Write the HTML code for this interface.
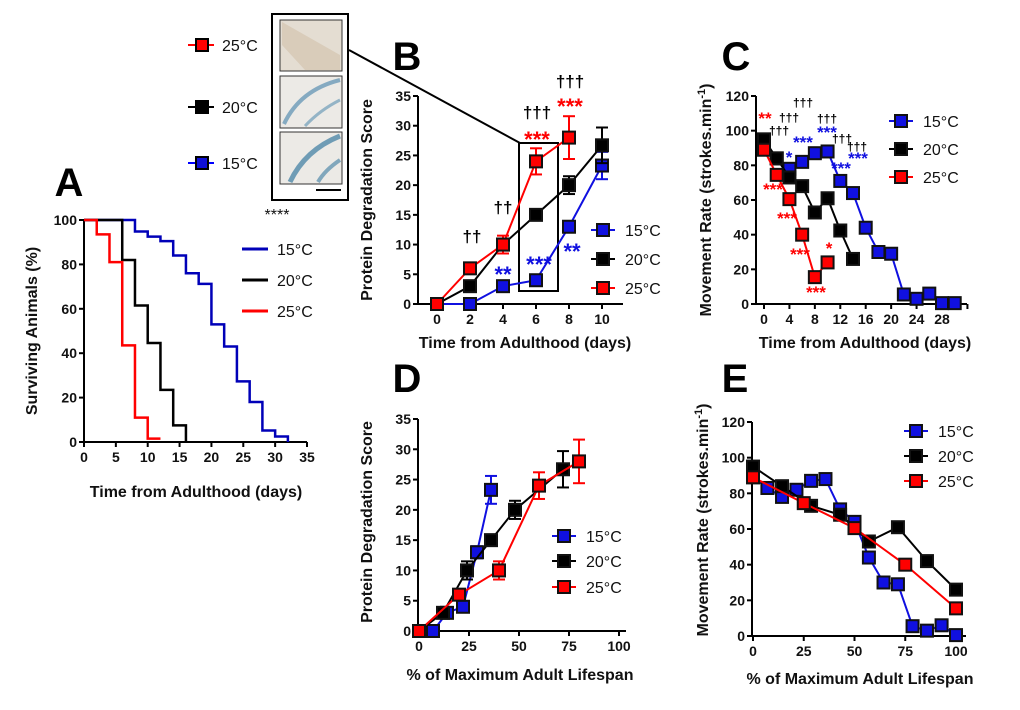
<!DOCTYPE html>
<html><head><meta charset="utf-8"><style>
html,body{margin:0;padding:0;background:#fff;}
svg{display:block;font-family:"Liberation Sans",Arial,sans-serif;}
.tk{font-size:14px;font-weight:bold;fill:#111;}
.tt{font-size:16px;font-weight:bold;fill:#111;}
.lg{font-size:16px;fill:#111;}
.pl{font-size:40px;font-weight:bold;fill:#000;}
</style></head><body>
<svg id="fig" width="1020" height="710" viewBox="0 0 1020 710">
<g>
<rect x="272" y="14" width="76" height="186" fill="#fff" stroke="#000" stroke-width="2"/>
<rect x="280" y="20" width="62" height="51" fill="#e4ddd2" stroke="#333"/>
<rect x="280" y="76" width="62" height="52" fill="#eceae6" stroke="#333"/>
<rect x="280" y="132" width="62" height="52" fill="#eceae6" stroke="#333"/>
<path d="M282 22 L340 55 L340 70 L305 70 L282 45Z" fill="#d9ccba"/>
<path d="M340 80 Q300 90 284 124" stroke="#5a8fb0" stroke-width="4" fill="none" opacity="0.7"/>
<path d="M340 100 Q320 110 305 126" stroke="#5a8fb0" stroke-width="3" fill="none" opacity="0.6"/>
<path d="M340 136 Q305 150 290 182" stroke="#3a7aa0" stroke-width="5" fill="none" opacity="0.7"/>
<path d="M340 160 Q325 170 318 182" stroke="#3a7aa0" stroke-width="4" fill="none" opacity="0.6"/>
<line x1="316" y1="190" x2="341" y2="190" stroke="#000" stroke-width="2"/>
<line x1="349" y1="50" x2="520" y2="143" stroke="#000" stroke-width="2"/>
<rect x="519" y="143" width="39" height="148" fill="none" stroke="#000" stroke-width="2"/>
</g>
<g>
<line x1="188" y1="45" x2="214" y2="45" stroke="#f00" stroke-width="2"/><rect x="196" y="39" width="12" height="12" fill="#f00" stroke="#000" stroke-width="2"/><text class="lg" x="222" y="51">25°C</text>
<line x1="188" y1="107" x2="214" y2="107" stroke="#000" stroke-width="2"/><rect x="196" y="101" width="12" height="12" fill="#000" stroke="#000" stroke-width="2"/><text class="lg" x="222" y="113">20°C</text>
<line x1="188" y1="163" x2="214" y2="163" stroke="#00f" stroke-width="2"/><rect x="196" y="157" width="12" height="12" fill="#1010d8" stroke="#000" stroke-width="2"/><text class="lg" x="222" y="169">15°C</text>
</g>
<g id="root"></g>
</svg>
<script>
// Panel A survival (step) data
const aDays15=[0,8,10,12,14,16,18,20,22,24,26,28,30,32];
const aSurv15=[100,94.8,92.5,90.5,84,76,71.2,53,43,27.3,18,5.2,2.5,0];
const aDays20=[0,6,8,10,12,14,16];
const aSurv20=[100,82,61.5,44.6,23.5,7.5,0];
const aDays25=[0,2,4,6,8,10,12];
const aSurv25=[100,93.5,81,43.5,11,1.5,1.5];
// Panel B protein degradation
const bDays=[0,2,4,6,8,10];
const b15=[0,0,3,4,13,23.3];
const b20=[0,3,10,15,20,26.7];
const b25=[0,6,10,24,28];
const b15err=[0,0,0,0,0.8,2.3];
const b20err=[0,0,0,0,1.5,3];
const b25err=[0,0,1.5,2.2,3.6];
// Panel C movement
const c15days=[0,2,4,6,8,10,12,14,16,18,20,22,24,26,28,30];
const c15=[90,84,78,82,87,88,71,64,44,30,29,5.5,3,6,0.5,0.5];
const c20days=[0,2,4,6,8,10,12,14];
const c20=[95,84,73,68,52.8,61,42.4,26];
const c25days=[0,2,4,6,8,10];
const c25=[89,74.5,60.5,40,15.5,24];
// Panel D
const d15x=[7,14,22,29,36];
const d15=[0,3,4,13,23.3];
const d15err=[0,0,0,1,2.3];
const d20x=[0,12,24,36,48,72];
const d20=[0,3,10,15,20,26.7];
const d20err=[0,0,1.5,0,1.5,3];
const d25x=[0,20,40,60,80];
const d25=[0,6,10,24,28];
const d25err=[0,0,1.5,2.2,3.6];
// Panel E
const e15x=[0,7.1,14.3,21.4,28.6,35.7,42.9,50,57.1,64.3,71.4,78.6,85.7,92.9,100];
const e15=[89,83,78,82,87,88,71,64,44,30,29,5.5,3,6,0.5];
const e20x=[0,14.3,28.6,42.9,57.1,71.4,85.7,100];
const e20=[95,84,73,68,53,61,42,26];
const e25x=[0,25,50,75,100];
const e25=[89,74.5,60.5,40,15.5];

const NS="http://www.w3.org/2000/svg";
const root=document.getElementById('root');
function mk(tag,attrs,parent){const e=document.createElementNS(NS,tag);for(const k in attrs)e.setAttribute(k,attrs[k]);(parent||root).appendChild(e);return e;}
function txt(s,x,y,cls,parent,anchor,fill){const t=mk('text',{x:x,y:y,class:cls,'text-anchor':anchor||'middle'},parent);if(fill){t.setAttribute('fill',fill);t.style.fill=fill;}t.textContent=s;return t;}
const BLUE='#1010e0',RED='#ff0000',BLK='#000';

function axes(p){
  const g=mk('g',{});
  
  
  const sx=v=>p.px0+(v-p.xd0)/(p.xd1-p.xd0)*(p.px1-p.px0);
  const sy=v=>p.py0+(v-p.yd0)/(p.yd1-p.yd0)*(p.py1-p.py0);
  mk('line',{x1:p.ax,y1:p.py1,x2:p.ax,y2:p.py0+1,stroke:'#000','stroke-width':2},g);
  mk('line',{x1:p.ax-1,y1:p.py0,x2:p.axEnd,y2:p.py0,stroke:'#000','stroke-width':2},g);
  p.yt.forEach(v=>{const y=sy(v);mk('line',{x1:p.ax-5,y1:y,x2:p.ax,y2:y,stroke:'#000','stroke-width':2},g);txt(String(v),p.ax-7,y+5,'tk',g,'end');});
  p.xt.forEach((v,i)=>{const x=sx(v);mk('line',{x1:x,y1:p.py0,x2:x,y2:p.py0+5,stroke:'#000','stroke-width':2},g);if(!p.xl||p.xl[i]!=='')txt(String(v),x,p.py0+20,'tk',g);});
  txt(p.xtitle,p.xtx,p.xty,'tt',g);
  const yt=txt(p.ytitle,0,0,'tt',g);yt.setAttribute('transform','translate('+p.ytx+','+p.yty+') rotate(-90)');
  if(p.sup){yt.textContent='';yt.appendChild(document.createTextNode(p.ytitle));const ts=mk('tspan',{dy:-6,'font-size':11},yt);ts.textContent='-1';const t2=mk('tspan',{dy:6},yt);t2.textContent=')';}
  txt(p.letter,p.lx,p.ly,'pl',g);
  return {g,sx,sy};
}
function series(ax,xs,ys,color,name,errs,lineColor){
  const g=mk('g',{},ax.g);
  
  
  const pts=xs.map((x,i)=>ax.sx(x)+','+ax.sy(ys[i])).join(' ');
  mk('polyline',{points:pts,fill:'none',stroke:lineColor||color,'stroke-width':2},g);
  xs.forEach((x,i)=>{
    const cx=ax.sx(x),cy=ax.sy(ys[i]);
    if(errs&&errs[i]){const e=errs[i];const y1=ax.sy(ys[i]+e),y2=ax.sy(ys[i]-e);
      mk('line',{x1:cx,y1:y1,x2:cx,y2:y2,stroke:color,'stroke-width':2},g);
      mk('line',{x1:cx-6,y1:y1,x2:cx+6,y2:y1,stroke:color,'stroke-width':2},g);
      mk('line',{x1:cx-6,y1:y2,x2:cx+6,y2:y2,stroke:color,'stroke-width':2},g);}
    const r=mk('rect',{x:cx-6,y:cy-6,width:12,height:12,fill:color,stroke:'#111','stroke-width':2},g);
    
    
  });
}
function step(ax,xs,ys,color,name){
  let d='M'+ax.sx(xs[0])+' '+ax.sy(ys[0]);
  for(let i=1;i<xs.length;i++){d+=' H'+ax.sx(xs[i])+' V'+ax.sy(ys[i]);}
  const p=mk('path',{d:d,fill:'none',stroke:color,'stroke-width':2.5},ax.g);
  
  
}
function legend(g,x,ys,labels,colors,withMarker,name){
  ys.forEach((y,i)=>{
    const lg=mk('g',{},g);
    
    
    if(withMarker){mk('line',{x1:x-12,y1:y,x2:x+12,y2:y,stroke:colors[i],'stroke-width':2},lg);mk('rect',{x:x-6,y:y-6,width:12,height:12,fill:colors[i],stroke:'#111','stroke-width':2},lg);}
    else mk('line',{x1:x-13,y1:y,x2:x+13,y2:y,stroke:colors[i],'stroke-width':3},lg);
    txt(labels[i],x+22,y+6,'lg',lg,'start');
  });
}
// A
const A=axes({name:'panel-a-survival',px0:84,px1:307,xd0:0,xd1:35,py0:442,py1:220,yd0:0,yd1:100,ax:84,axEnd:307,
 xt:[0,5,10,15,20,25,30,35],yt:[0,20,40,60,80,100],xtitle:'Time from Adulthood (days)',xtx:196,xty:497,ytitle:'Surviving Animals (%)',ytx:37,yty:331,letter:'A',lx:69,ly:196});
step(A,aDays15,aSurv15,'#0000b8','survival-15c');
step(A,aDays20,aSurv20,BLK,'survival-20c');
step(A,aDays25,aSurv25,RED,'survival-25c');
legend(A.g,255,[249,280,311],['15°C','20°C','25°C'],['#0000b8',BLK,RED],false,'legend-a');
txt('****',277,220,'lg',A.g);
// B
const B=axes({name:'panel-b-protein',px0:437,px1:602,xd0:0,xd1:10,py0:304,py1:96,yd0:0,yd1:35,ax:418,axEnd:623,
 xt:[0,2,4,6,8,10],yt:[0,5,10,15,20,25,30,35],xtitle:'Time from Adulthood (days)',xtx:525,xty:348,ytitle:'Protein Degradation Score',ytx:372,yty:200,letter:'B',lx:407,ly:70});
series(B,bDays,b15,BLUE,'b-15c',b15err);
series(B,bDays,b20,BLK,'b-20c',b20err);
series(B,bDays.slice(0,5),b25,RED,'b-25c',b25err);
legend(B.g,603,[230,259,288],['15°C','20°C','25°C'],[BLUE,BLK,RED],true,'legend-b');
[['††',472,242,BLK],['††',503,213,BLK],['†††',537,118,BLK],['†††',570,87,BLK],['***',537,147,RED],['***',570,114,RED],['**',503,282,BLUE],['***',539,272,BLUE],['**',572,259,BLUE]].forEach(a=>{const t=txt(a[0],a[1],a[2],'lg',B.g,'middle',a[3]);t.style.fontSize=a[3]===BLK?'17px':'22px';t.style.fontWeight='bold';});
// C
const C=axes({name:'panel-c-movement',px0:764,px1:942,xd0:0,xd1:28,py0:304,py1:96,yd0:0,yd1:120,ax:756,axEnd:967,
 xt:[0,4,8,12,16,20,24,28,32],xl:['0','4','8','12','16','20','24','28',''],yt:[0,20,40,60,80,100,120],xtitle:'Time from Adulthood (days)',xtx:865,xty:348,ytitle:'Movement Rate (strokes.min',sup:true,ytx:711,yty:200,letter:'C',lx:736,ly:70});
series(C,c15days,c15,BLUE,'c-15c');
series(C,c20days,c20,BLK,'c-20c');
series(C,c25days,c25,RED,'c-25c');
legend(C.g,901,[121,149,177],['15°C','20°C','25°C'],[BLUE,BLK,RED],true,'legend-c');
[['**',765,124,RED],['†††',779,135,BLK],['†††',789,122,BLK],['†††',803,107,BLK],['*',789,163,BLUE],['***',803,148,BLUE],['†††',827,123,BLK],['***',827,138,BLUE],['†††',842,143,BLK],['†††',857,151,BLK],['***',858,164,BLUE],['***',841,174,BLUE],['***',773,195,RED],['***',787,224,RED],['***',800,260,RED],['*',829,254,RED],['***',816,298,RED]].forEach(a=>{const t=txt(a[0],a[1],a[2],'lg',C.g,'middle',a[3]);t.style.fontSize=a[3]===BLK?'12px':'17px';t.style.fontWeight='bold';});
// D
const D=axes({name:'panel-d-protein-lifespan',px0:419,px1:619,xd0:0,xd1:100,py0:631,py1:419,yd0:0,yd1:35,ax:418,axEnd:626,
 xt:[0,25,50,75,100],yt:[0,5,10,15,20,25,30,35],xtitle:'% of Maximum Adult Lifespan',xtx:520,xty:680,ytitle:'Protein Degradation Score',ytx:372,yty:522,letter:'D',lx:407,ly:392});
series(D,d15x,d15,BLUE,'d-15c',d15err);
series(D,d20x,d20,BLK,'d-20c',d20err);
series(D,d25x,d25,RED,'d-25c',d25err);
legend(D.g,564,[536,561,587],['15°C','20°C','25°C'],[BLUE,BLK,RED],true,'legend-d');
// E
const E=axes({name:'panel-e-movement-lifespan',px0:753,px1:956,xd0:0,xd1:100,py0:636,py1:422,yd0:0,yd1:120,ax:752,axEnd:966,
 xt:[0,25,50,75,100],yt:[0,20,40,60,80,100,120],xtitle:'% of Maximum Adult Lifespan',xtx:860,xty:684,ytitle:'Movement Rate (strokes.min',sup:true,ytx:708,yty:520,letter:'E',lx:735,ly:392});
series(E,e15x,e15,BLUE,'e-15c');
series(E,e20x,e20,BLK,'e-20c');
series(E,e25x,e25,RED,'e-25c');
legend(E.g,916,[431,456,481],['15°C','20°C','25°C'],[BLUE,BLK,RED],true,'legend-e');
</script>
</body></html>
